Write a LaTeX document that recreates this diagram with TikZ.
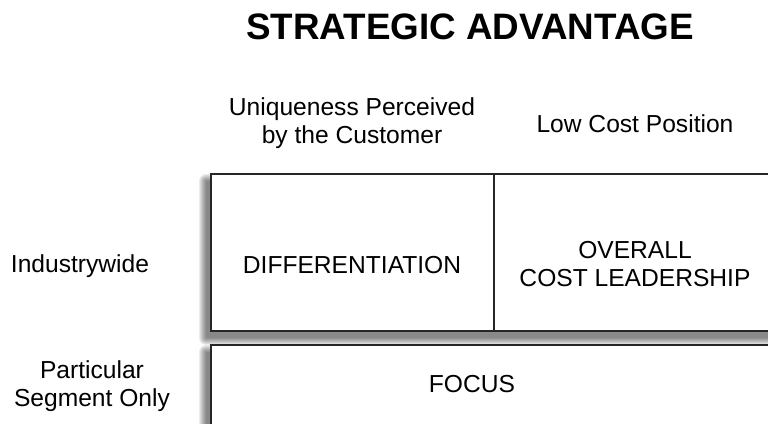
\documentclass[tikz,border=0pt]{standalone}
\usepackage{fontspec}
\setmainfont{Liberation Sans}
\usepackage{tikz}

\tikzset{
	cell/.style={draw=black!85,line width=2pt,fill=white},
	label/.style={inner sep=0pt,align=center,font=\fontsize{24.6}{28}\selectfont},
	heading/.style={inner sep=0pt,font=\fontsize{36.8}{40}\selectfont\bfseries}
}

\begin{document}
\begin{tikzpicture}[x=1pt,y=-1pt]
	\useasboundingbox (0,0) rectangle (768,423);
	\clip (0,0) rectangle (768,423);
	% soft shadows under both rows
	\foreach \r in {0,1,...,7}
		{\fill[black,opacity=0.075,rounded corners=\r pt] (206-\r,181-\r) rectangle (900,338+\r);
		 \fill[black,opacity=0.075,rounded corners=\r pt] (206-\r,352-\r) rectangle (900,500);
	};
	\draw[cell] (211,174) rectangle (900,331);
	\draw[cell] (494,174) -- (494,331);
	\draw[cell] (211,345) rectangle (900,500);
	\node[heading] (title) at (470,27) {STRATEGIC ADVANTAGE};
	\node[label] (unique) at (352,123) {Uniqueness Perceived\\by the Customer};
	\node[label] (lowcost) at (635,124) {Low Cost Position};
	\node[label] (industry) at (80,266) {Industrywide};
	\node[label] (segment) at (92,386) {Particular\\Segment Only};
	\node[label] (diff) at (352,265) {DIFFERENTIATION};
	\node[label] (overall) at (635,264) {OVERALL\\COST LEADERSHIP};
	\node[label] (focus) at (472,384) {FOCUS};
\end{tikzpicture}
\end{document}
